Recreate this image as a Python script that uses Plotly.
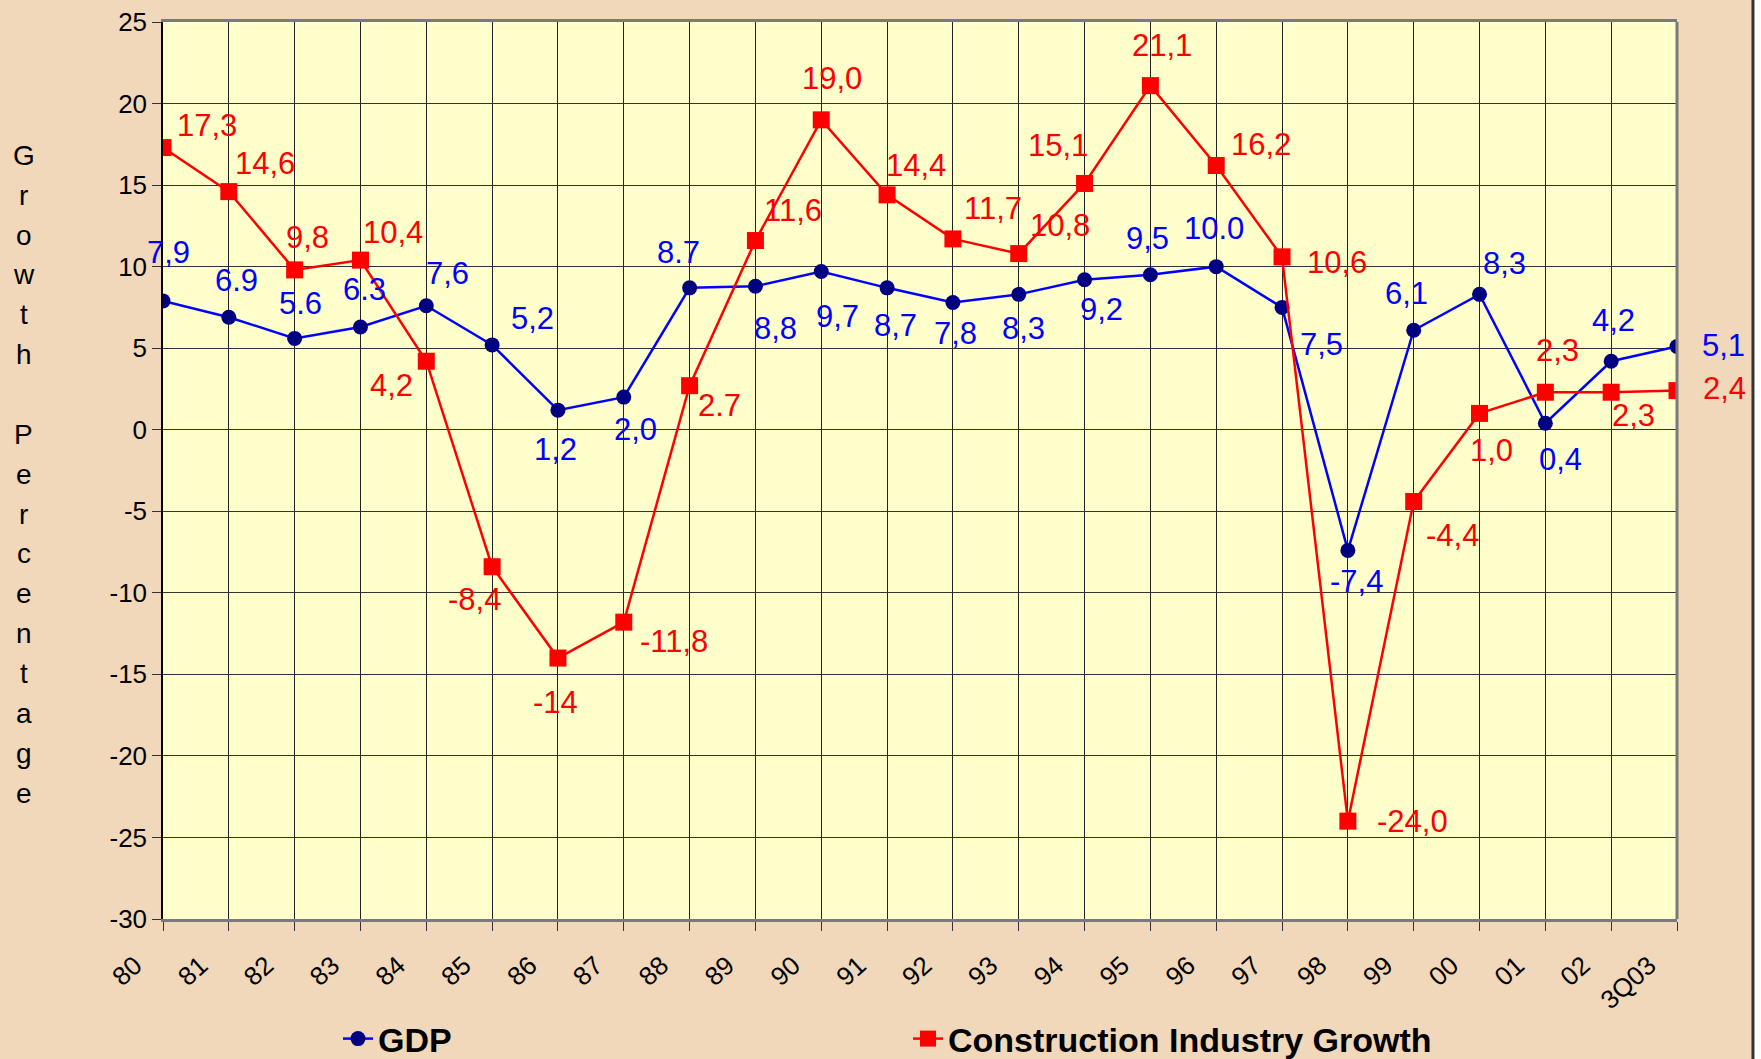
import plotly.graph_objects as go

# ---------------- data ----------------
years = ["80", "81", "82", "83", "84", "85", "86", "87", "88", "89", "90", "91",
         "92", "93", "94", "95", "96", "97", "98", "99", "00", "01", "02", "3Q03"]

gdp = [7.9, 6.9, 5.6, 6.3, 7.6, 5.2, 1.2, 2.0, 8.7, 8.8, 9.7, 8.7,
       7.8, 8.3, 9.2, 9.5, 10.0, 7.5, -7.4, 6.1, 8.3, 0.4, 4.2, 5.1]
gdp_labels = ["7,9", "6.9", "5.6", "6.3", "7,6", "5,2", "1,2", "2,0", "8.7", "8,8", "9,7", "8,7",
              "7,8", "8,3", "9,2", "9,5", "10.0", "7,5", "-7,4", "6,1", "8,3", "0,4", "4,2", "5,1"]

construction = [17.3, 14.6, 9.8, 10.4, 4.2, -8.4, -14, -11.8, 2.7, 11.6, 19.0, 14.4,
                11.7, 10.8, 15.1, 21.1, 16.2, 10.6, -24.0, -4.4, 1.0, 2.3, 2.3, 2.4]
construction_labels = ["17,3", "14,6", "9,8", "10,4", "4,2", "-8,4", "-14", "-11,8", "2.7", "11,6",
                       "19,0", "14,4", "11,7", "10,8", "15,1", "21,1", "16,2", "10,6", "-24,0",
                       "-4,4", "1,0", "2,3", "2,3", "2,4"]

y_ticks = [25, 20, 15, 10, 5, 0, -5, -10, -15, -20, -25, -30]
y_tick_text = ["25", "20", "15", "10", "5", "0", "-5", "-10", "-15", "-20", "-25", "-30"]

# ---------------- label offsets (px, dy positive = downward) ----------------
gdp_off = [(5, -48), (8, -37), (6, -35), (4, -37), (21, -32), (40, -26), (-2, 39), (12, 32),
           (-11, -35), (20, 42), (16, 45), (8, 38), (3, 31), (5, 34), (17, 30), (-3, -36),
           (-2, -38), (39, 37), (9, 31), (-7, -37), (25, -31), (15, 36), (2, -41), (46, -1)]
cons_off = [(44, -22), (36, -28), (13, -32), (33, -28), (-35, 24), (-18, 33), (-2, 44), (50, 19),
            (30, 20), (38, -30), (11, -41), (29, -29), (40, -30), (41, -28), (-27, -38), (12, -40),
            (45, -21), (55, 6), (65, 0), (39, 34), (12, 37), (12, -42), (22, 23), (47, -2)]

FONT = "Arial, Liberation Sans, sans-serif"
BLUE = "#0000FF"
NAVY = "#000080"
RED = "#FF0000"
PAPER = "#F1D8BA"
PLOTBG = "#FFFFCC"

L, R, T, B = 162.5, 1677.0, 21.6, 918.6
PW, PH = R - L, B - T

xs = list(range(len(years)))

fig = go.Figure()
fig.add_trace(go.Scatter(
    x=xs, y=gdp, name="GDP", mode="lines+markers",
    line=dict(color=BLUE, width=2.5),
    marker=dict(symbol="circle", size=15, color=NAVY, line=dict(width=0)),
))
fig.add_trace(go.Scatter(
    x=xs, y=construction, name="Construction Industry Growth", mode="lines+markers",
    line=dict(color=RED, width=2.5),
    marker=dict(symbol="square", size=17, color=RED, line=dict(width=0)),
))

annotations = []
for i, (v, t) in enumerate(zip(gdp, gdp_labels)):
    dx, dy = gdp_off[i]
    annotations.append(dict(x=i, y=v, text=t, showarrow=False, xshift=dx, yshift=-dy,
                            font=dict(family=FONT, size=31, color=BLUE)))
for i, (v, t) in enumerate(zip(construction, construction_labels)):
    dx, dy = cons_off[i]
    annotations.append(dict(x=i, y=v, text=t, showarrow=False, xshift=dx, yshift=-dy,
                            font=dict(family=FONT, size=31, color=RED)))

# vertical axis title, one letter per line
title_text = "Growth Percentage"
for k, ch in enumerate(title_text):
    if ch == " ":
        continue
    annotations.append(dict(xref="paper", yref="paper", x=0, y=1, xanchor="center", yanchor="middle",
                            xshift=23 - L, yshift=-(155 - T) - k * 39.85,
                            text=ch, showarrow=False,
                            font=dict(family=FONT, size=28, color="black")))

fig.update_layout(
    width=1761, height=1059,
    margin=dict(l=L, r=1761 - R, t=T, b=1059 - B, pad=0, autoexpand=False),
    paper_bgcolor=PAPER, plot_bgcolor=PLOTBG,
    font=dict(family=FONT, color="black"),
    annotations=annotations,
    showlegend=True,
    legend=dict(orientation="h", xref="container", yref="container",
                x=338 / 1761, y=(1059 - 1039) / 1059, xanchor="left", yanchor="middle",
                bgcolor="rgba(0,0,0,0)", entrywidth=525,
                font=dict(family=FONT, size=34, color="black", weight="bold")),
    xaxis=dict(
        range=[0, len(years) - 1], tickmode="array", tickvals=xs, ticktext=years,
        tickangle=-42, tickfont=dict(family=FONT, size=26, color="black"),
        ticklabelstandoff=9, ticklabelshift=-28, automargin=False,
        showgrid=True, gridcolor="#222222", gridwidth=1,
        showline=True, linecolor="#7a7a7a", linewidth=3, mirror=True,
        ticks="outside", ticklen=9, tickcolor="#333333", tickwidth=1,
        zeroline=False,
    ),
    yaxis=dict(
        range=[-30, 25], tickmode="array", tickvals=y_ticks, ticktext=y_tick_text,
        tickfont=dict(family=FONT, size=26, color="black"), automargin=False,
        showgrid=True, gridcolor="#333333", gridwidth=1,
        showline=True, linecolor="#000000", linewidth=1.5,
        ticks="outside", ticklen=9, tickcolor="#333333", tickwidth=1,
        zeroline=False,
    ),
    shapes=[
        dict(type="line", xref="paper", yref="paper", x0=1, x1=1, y0=0, y1=1,
             line=dict(color="#7a7a7a", width=3)),
        dict(type="rect", xref="paper", yref="paper", layer="above",
             x0=(1754 - L) / PW, x1=(1762 - L) / PW,
             y0=-(1059 - B) / PH - 0.01, y1=1 + T / PH + 0.01,
             fillcolor="#FFFFFF", line=dict(width=0)),
        dict(type="line", xref="paper", yref="paper", layer="above",
             x0=(1753 - L) / PW, x1=(1753 - L) / PW,
             y0=-(1059 - B) / PH - 0.01, y1=1 + T / PH + 0.01,
             line=dict(color="#333333", width=3)),
    ],
)

fig.write_html("out.html", config={"displayModeBar": False},
               post_script="document.body.style.margin='0';document.body.style.overflow='hidden';")
